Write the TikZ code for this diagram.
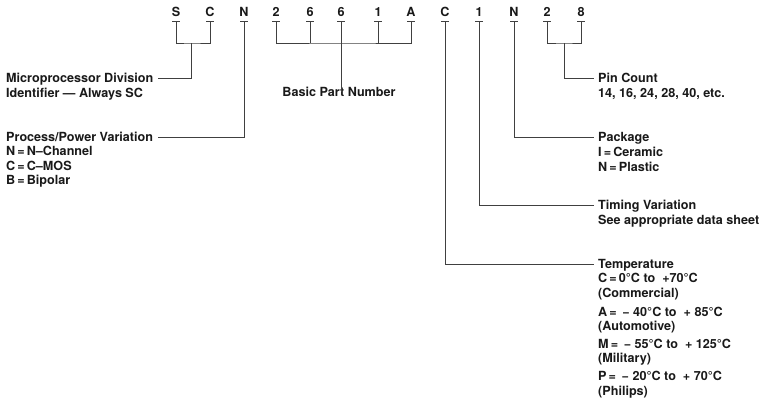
\documentclass[tikz,border=0pt]{standalone}
\usepackage{fontspec}
\setmainfont{TeX Gyre Heros}
\begin{document}
\begin{tikzpicture}[x=1pt,y=-1pt,
  txt/.style={font=\fontsize{12.6}{15}\selectfont\bfseries, text=black!90, inner sep=0pt, text height=9pt, text depth=0pt},
  lbl/.style={txt, anchor=west},
  lettr/.style={txt, anchor=center},
  conn/.style={draw=black!75, line width=0.9pt},
  tick/.style={draw=black!75, line width=0.9pt}]
\useasboundingbox (0,0) rectangle (766,407);
% top letters
\foreach \n/\x/\t in {a/176/S, b/210/C, c/244/N, d/276/2, e/310/6, f/341/6, g/378/1, h/411/A, i/445/C, j/479/1, k/514/N, l/547/2, m/581/8}{
  \node[lettr] (L\n) at (\x,12) {\t};
  \coordinate (T\n) at (\x,21);
  \draw[tick] ([xshift=-4pt]T\n) -- ([xshift=4pt]T\n);
}
% left labels
\node[lbl] (micro) at (6,78) {Microprocessor Division};
\node[lbl] (ident) at (6,93) {Identifier — Always SC};
\node[lbl] (proc) at (6,137) {Process/Power Variation};
\node[lbl] (pn) at (6,151) {N\,=\,N–Channel};
\node[lbl] (pc) at (6,166) {C\,=\,C–MOS};
\node[lbl] (pb) at (6,180) {B\,=\,Bipolar};
% middle label
\node[lettr] (basic) at (339,92) {Basic Part Number};
% right labels
\node[lbl] (pin) at (598,78) {Pin Count};
\node[lbl] (pin2) at (598,93) {14, 16, 24, 28, 40, etc.};
\node[lbl] (pkg) at (598,137) {Package};
\node[lbl] (pkg2) at (598,152) {I\,=\,Ceramic};
\node[lbl] (pkg3) at (598,167) {N\,=\,Plastic};
\node[lbl] (tim) at (598,205) {Timing Variation};
\node[lbl] (tim2) at (598,220) {See appropriate data sheet};
\node[lbl] (temp) at (598,264) {Temperature};
\node[lbl] (tc) at (598,278) {C\,=\,0°C to \ +70°C};
\node[lbl] (tc2) at (598,293) {(Commercial)};
\node[lbl] (ta) at (598,312) {A\,= \,− 40°C to \ + 85°C};
\node[lbl] (ta2) at (598,326) {(Automotive)};
\node[lbl] (tm) at (598,344) {M\,= \,− 55°C to \ + 125°C};
\node[lbl] (tm2) at (598,358) {(Military)};
\node[lbl] (tp) at (598,376) {P\,= \,− 20°C to \ + 70°C};
\node[lbl] (tp2) at (598,391) {(Philips)};
% SC bracket
\coordinate (scm) at (191,43);
\draw[conn] (Ta) |- (scm) -| (Tb);
\draw[conn] (scm) |- ([xshift=5pt]micro.east);
% N process
\draw[conn] (Tc) |- ([xshift=5pt]proc.east);
% 2661A bracket
\coordinate (bpm) at (341,43);
\draw[conn] (Td) |- (bpm) -| (Th);
\draw[conn] (Te) -- (Te |- bpm);
\draw[conn] (Tf) -- (Tf |- bpm);
\draw[conn] (Tg) -- (Tg |- bpm);
\draw[conn] (bpm) -- ([yshift=-5pt]basic.north -| bpm);
% C temperature
\draw[conn] (Ti) |- ([xshift=-4pt]temp.west);
% 1 timing
\draw[conn] (Tj) |- ([xshift=-4pt]tim.west);
% N package
\draw[conn] (Tk) |- ([xshift=-4pt]pkg.west);
% 28 bracket
\coordinate (pcm) at (564,43);
\draw[conn] (Tl) |- (pcm) -| (Tm);
\draw[conn] (pcm) |- ([xshift=-4pt]pin.west);
\end{tikzpicture}
\end{document}
